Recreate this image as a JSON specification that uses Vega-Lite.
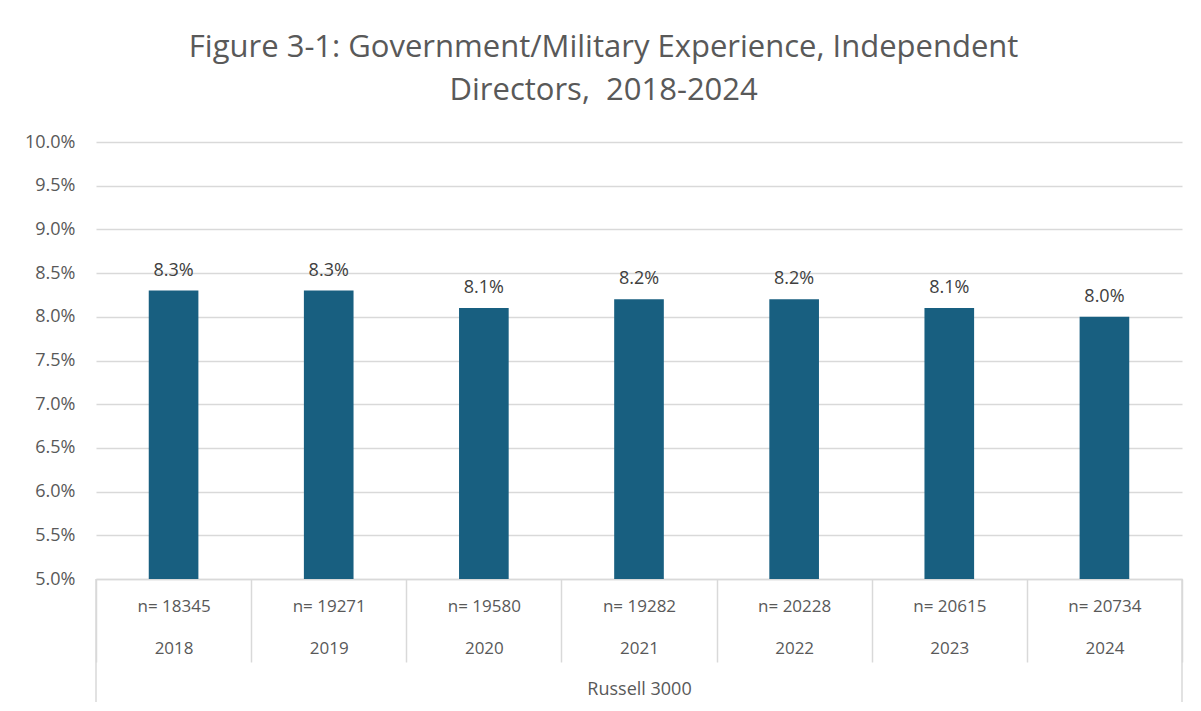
{
  "$schema": "https://vega.github.io/schema/vega-lite/v6.json",
  "width": 1086,
  "height": 437,
  "autosize": "none",
  "padding": {"left": 96, "top": 142, "right": 19, "bottom": 132},
  "background": "white",
  "config": {"view": {"stroke": null}, "font": "Open Sans"},
  "title": {
    "text": ["Figure 3-1: Government/Military Experience, Independent", "Directors,\u00a0 2018-2024"],
    "fontSize": 31,
    "font": "Open Sans",
    "fontWeight": "normal",
    "color": "#595959",
    "anchor": "middle",
    "frame": "bounds",
    "lineHeight": 43,
    "offset": 26
  },
  "data": {
    "values": [
      {"cat": "n= 18345|2018", "value": 0.083},
      {"cat": "n= 19271|2019", "value": 0.083},
      {"cat": "n= 19580|2020", "value": 0.081},
      {"cat": "n= 19282|2021", "value": 0.082},
      {"cat": "n= 20228|2022", "value": 0.082},
      {"cat": "n= 20615|2023", "value": 0.081},
      {"cat": "n= 20734|2024", "value": 0.080}
    ]
  },
  "encoding": {
    "x": {
      "field": "cat",
      "type": "nominal",
      "sort": null,
      "scale": {"paddingInner": 0, "paddingOuter": 0},
      "axis": {
        "title": "Russell 3000",
        "titleFontSize": 18,
        "titleFontWeight": "normal",
        "titleColor": "#595959",
        "titleBaseline": "middle",
        "titleY": 110,
        "labelExpr": "datum.value ? split(datum.value, '|') : ''",
        "labelAngle": 0,
        "labelFontSize": 17,
        "labelLineHeight": 42,
        "labelColor": "#595959",
        "labelPadding": -64,
        "domainColor": "#d9d9d9",
        "domainWidth": 1.5,
        "tickColor": "#d9d9d9",
        "tickWidth": 1.5,
        "tickBand": "extent",
        "tickSize": 83
      }
    },
    "y": {
      "field": "value",
      "type": "quantitative",
      "scale": {"domain": [0.05, 0.1], "zero": false, "nice": false},
      "axis": {
        "title": null,
        "values": [0.05, 0.055, 0.06, 0.065, 0.07, 0.075, 0.08, 0.085, 0.09, 0.095, 0.1],
        "format": ".1%",
        "labelFontSize": 18,
        "labelColor": "#595959",
        "labelPadding": 21,
        "ticks": false,
        "domain": false,
        "gridColor": "#d9d9d9",
        "gridWidth": 1.5
      }
    }
  },
  "layer": [
    {"mark": {"type": "bar", "color": "#185F80", "width": {"band": 0.32}, "clip": true}},
    {
      "mark": {"type": "text", "baseline": "bottom", "dy": -11, "fontSize": 18, "color": "#404040"},
      "encoding": {"text": {"field": "value", "format": ".1%"}}
    },
    {
      "data": {"values": [{"edge": "n= 18345|2018", "top": 0.05, "bottom": 0.03593}]},
      "mark": {"type": "rule", "color": "#d9d9d9", "strokeWidth": 1.5, "clip": false},
      "encoding": {
        "x": {"field": "edge", "type": "nominal", "bandPosition": 0},
        "y": {"field": "top", "type": "quantitative"},
        "y2": {"field": "bottom"}
      }
    },
    {
      "data": {"values": [{"edge": "n= 20734|2024", "top": 0.05, "bottom": 0.03593}]},
      "mark": {"type": "rule", "color": "#d9d9d9", "strokeWidth": 1.5, "clip": false},
      "encoding": {
        "x": {"field": "edge", "type": "nominal", "bandPosition": 1},
        "y": {"field": "top", "type": "quantitative"},
        "y2": {"field": "bottom"}
      }
    }
  ]
}
